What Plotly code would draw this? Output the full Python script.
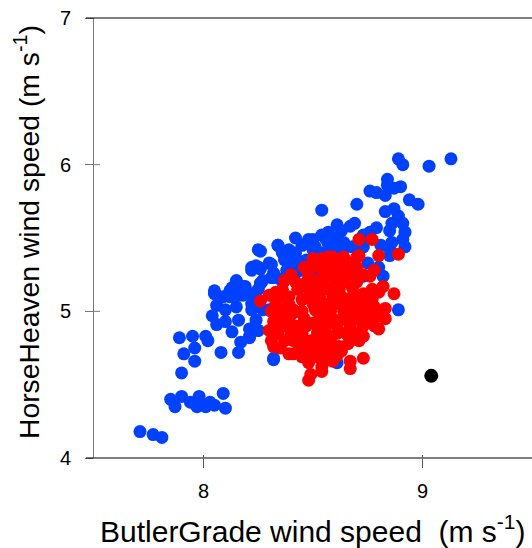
import plotly.graph_objects as go

# ---- data (m s-1) ----
blue_x = [7.71, 7.77, 7.81, 7.85, 7.87, 7.90, 7.94, 7.98, 7.97, 8.01, 8.03, 8.05, 8.09, 8.10,
          7.90, 7.91, 7.96, 7.96, 7.89, 7.95, 8.01, 8.02, 8.08, 8.16, 8.17, 8.21, 8.21, 8.13,
          8.06, 8.04, 8.06, 8.05, 8.10, 8.15, 8.16, 8.10, 8.12, 8.18, 8.22, 8.24, 8.25, 8.32, 8.30,
          8.26, 8.34, 8.22, 8.22, 8.25, 8.31, 8.26, 8.32, 8.15, 8.19, 8.12, 8.09, 8.16, 8.22,
          8.42, 8.48, 8.34, 8.36, 8.38, 8.42, 8.24, 8.26, 8.37, 8.38, 8.41, 8.44, 8.47, 8.45,
          8.31, 8.35, 8.26, 8.15, 8.18, 8.13, 8.05,
          8.89, 8.91, 9.03, 9.13, 8.84, 8.84, 8.90, 8.87, 8.76, 8.79, 8.83, 8.94, 8.98, 8.70,
          8.54, 8.83, 8.87, 8.89, 8.91, 8.86, 8.85, 8.92, 8.79, 8.76, 8.73, 8.69, 8.67, 8.61,
          8.63, 8.57, 8.54, 8.50, 8.56, 8.60, 8.64, 8.86, 8.91, 8.92, 8.85, 8.81, 8.73, 8.68,
          8.51, 8.58, 8.64, 8.85,
          8.39, 8.82, 8.89, 8.73, 8.25, 8.30, 8.36, 8.40, 8.42, 8.45, 8.27, 8.32, 8.22, 8.25,
          8.27, 8.22, 8.61, 8.32, 8.21, 8.25,
          8.55, 8.60, 8.65, 8.70, 8.48, 8.52, 8.45, 8.50, 8.57, 8.62, 8.80, 8.75]
blue_y = [4.18, 4.16, 4.14, 4.40, 4.35, 4.42, 4.38, 4.42, 4.35, 4.35, 4.38, 4.36, 4.44, 4.34,
          4.58, 4.71, 4.66, 4.75, 4.82, 4.83, 4.83, 4.80, 4.72, 4.72, 4.79, 4.82, 4.88, 4.86,
          4.91, 4.97, 5.04, 5.12, 5.01, 5.03, 4.94, 4.93, 5.10, 5.11, 5.05, 4.94, 4.87, 4.67, 5.01,
          5.41, 5.45, 5.30, 5.28, 5.30, 5.32, 5.19, 5.23, 5.20, 5.17, 5.14, 5.10, 5.11, 5.12,
          5.50, 5.49, 5.45, 5.41, 5.39, 5.40, 5.31, 5.29, 5.35, 5.28, 5.28, 5.34, 5.35, 5.28,
          5.23, 5.22, 5.19, 5.21, 5.17, 5.16, 5.14,
          6.04, 6.00, 5.99, 6.04, 5.90, 5.86, 5.85, 5.84, 5.82, 5.81, 5.79, 5.76, 5.73, 5.73,
          5.69, 5.68, 5.70, 5.65, 5.60, 5.60, 5.55, 5.54, 5.57, 5.54, 5.52, 5.60, 5.58, 5.59,
          5.55, 5.54, 5.52, 5.49, 5.49, 5.50, 5.47, 5.47, 5.49, 5.44, 5.43, 5.45, 5.44, 5.44,
          5.44, 5.43, 5.42, 5.38,
          5.42, 5.24, 5.01, 5.24, 5.42, 5.33, 5.40, 5.33, 5.26, 5.17, 5.21, 5.26, 5.10, 5.15,
          5.01, 5.01, 4.65, 4.68, 4.83, 4.87,
          5.40, 5.36, 5.30, 5.28, 5.30, 5.25, 5.45, 5.42, 5.46, 5.44, 5.30, 5.33]

red_x = [8.37, 8.50, 8.51, 8.71, 8.77, 8.80, 8.89, 8.71, 8.57, 8.64, 8.87, 8.78, 8.76, 8.82,
         8.83, 8.80, 8.77, 8.73, 8.80, 8.73, 8.59, 8.70, 8.67, 8.60, 8.65, 8.68, 8.63,
         8.26, 8.30, 8.33, 8.39, 8.54, 8.48, 8.51, 8.57, 8.45, 8.41, 8.36, 8.51, 8.57,
         8.83, 8.80, 8.76, 8.73, 8.66, 8.73, 8.67, 8.67, 8.59, 8.54, 8.49, 8.48, 8.53, 8.45,
         8.41, 8.32, 8.37, 8.30, 8.32, 8.56, 8.62, 8.65, 8.71, 8.78, 8.76, 8.68, 8.60, 8.48,
         8.44, 8.38, 8.56, 8.50, 8.41, 8.54, 8.78, 8.71, 8.57, 8.48, 8.39, 8.45,
         8.46, 8.53, 8.58, 8.62, 8.70,
         8.40, 8.48, 8.55, 8.61, 8.68, 8.73,
         8.42, 8.47, 8.54, 8.60, 8.64, 8.70,
         8.36, 8.43, 8.52, 8.57, 8.62, 8.77,
         8.35, 8.48, 8.53, 8.59, 8.68, 8.72,
         8.33, 8.39, 8.50, 8.54, 8.62, 8.66, 8.71,
         8.31, 8.45, 8.55, 8.58, 8.64, 8.74, 8.79,
         8.34, 8.39, 8.46, 8.53, 8.57, 8.64, 8.69,
         8.33, 8.42, 8.47, 8.52, 8.61, 8.67, 8.73,
         8.34, 8.40, 8.45, 8.52, 8.56, 8.61, 8.70,
         8.31, 8.41, 8.49, 8.53, 8.58, 8.67,
         8.35, 8.44, 8.51, 8.55, 8.60,
         8.50, 8.56, 8.61, 8.47, 8.58, 8.63]
red_y = [5.21, 5.36, 5.32, 5.49, 5.49, 5.38, 5.39, 5.38, 5.37, 5.37, 5.12, 5.28, 5.24, 5.17,
         5.02, 4.97, 5.08, 5.12, 5.13, 5.03, 5.37, 5.37, 5.33, 5.26, 5.26, 5.16, 5.10,
         5.07, 5.11, 5.13, 5.10, 5.36, 5.17, 5.21, 5.24, 5.08, 5.01, 5.01, 5.01, 5.05,
         4.95, 4.88, 4.94, 4.83, 4.78, 4.68, 4.66, 4.61, 4.66, 4.62, 4.57, 4.53, 4.68, 4.69,
         4.71, 4.76, 4.80, 4.87, 4.93, 4.80, 4.76, 4.85, 4.96, 5.03, 5.08, 5.01, 4.94, 4.74,
         4.80, 4.90, 4.90, 4.92, 4.99, 4.59, 4.90, 4.80, 4.67, 4.65, 4.71, 4.71,
         5.30, 5.30, 5.30, 5.30, 5.30,
         5.25, 5.25, 5.25, 5.25, 5.25, 5.25,
         5.20, 5.20, 5.20, 5.20, 5.20, 5.20,
         5.15, 5.15, 5.15, 5.15, 5.15, 5.15,
         5.10, 5.10, 5.10, 5.10, 5.10, 5.10,
         5.05, 5.05, 5.05, 5.05, 5.05, 5.05, 5.05,
         5.00, 5.00, 5.00, 5.00, 5.00, 5.00, 5.00,
         4.95, 4.95, 4.95, 4.95, 4.95, 4.95, 4.95,
         4.90, 4.90, 4.90, 4.90, 4.90, 4.90, 4.90,
         4.85, 4.85, 4.85, 4.85, 4.85, 4.85, 4.85,
         4.80, 4.80, 4.80, 4.80, 4.80, 4.80,
         4.75, 4.75, 4.75, 4.75, 4.75,
         4.70, 4.70, 4.70, 4.73, 4.73, 4.73]

black_x = [9.04]
black_y = [4.56]

x_ticks = [8, 9]
y_ticks = [4, 5, 6, 7]

FONT = "Liberation Sans, Arial, sans-serif"

fig = go.Figure()
fig.add_trace(go.Scatter(x=blue_x, y=blue_y, mode="markers",
                         marker=dict(size=13, color="#0040ff", line=dict(width=0))))
fig.add_trace(go.Scatter(x=red_x, y=red_y, mode="markers",
                         marker=dict(size=13, color="#ff0000", line=dict(width=0))))
fig.add_trace(go.Scatter(x=black_x, y=black_y, mode="markers",
                         marker=dict(size=14, color="#000000", line=dict(width=0))))

W, H = 532, 548
L, R, T, B = 94, 0, 18, 90
pw, ph = W - L - R, H - T - B

shapes = [
    dict(type="line", xref="paper", yref="paper", x0=-8 / pw, x1=1.0, y0=0, y1=0,
         line=dict(color="black", width=1.2)),
    dict(type="line", xref="paper", yref="paper", x0=-8 / pw, x1=1.0, y0=1, y1=1,
         line=dict(color="black", width=1.2)),
]
for yv in [5, 6]:
    shapes.append(dict(type="line", xref="paper", yref="y", x0=0, x1=6 / pw, y0=yv, y1=yv,
                       line=dict(color="#777777", width=1)))
for xv in x_ticks:
    shapes.append(dict(type="line", xref="x", yref="paper", x0=xv, x1=xv, y0=0, y1=3 / ph,
                       line=dict(color="#555555", width=1)))

fig.update_layout(
    width=W, height=H,
    margin=dict(l=L, r=R, t=T, b=B, pad=0),
    paper_bgcolor="white", plot_bgcolor="white",
    showlegend=False,
    font=dict(family=FONT, color="black"),
    shapes=shapes,
    xaxis=dict(range=[7.5, 9.5], tickvals=x_ticks, ticktext=[str(v) for v in x_ticks],
               showgrid=False, zeroline=False, showline=False,
               ticks="outside", ticklen=9, tickwidth=1, tickcolor="#555555",
               tickfont=dict(size=20, family=FONT, color="black"), ticklabelstandoff=6),
    yaxis=dict(range=[4, 7], tickvals=y_ticks, ticktext=[str(v) for v in y_ticks],
               showgrid=False, zeroline=False, showline=True, linecolor="#777777", linewidth=1,
               ticks="outside", ticklen=8, tickwidth=1, tickcolor="#777777",
               tickfont=dict(size=20, family=FONT, color="black"), ticklabelstandoff=10),
    annotations=[
        dict(text="ButlerGrade wind speed&nbsp; (m s<sup>-1</sup>)", xref="paper", yref="paper",
             x=0.5, y=(458 - 529) / ph, xanchor="center", yanchor="middle", showarrow=False,
             font=dict(size=30, family=FONT, color="black")),
        dict(text="HorseHeaven wind speed (m s<sup>-1</sup>)", xref="paper", yref="paper",
             x=(27 - L) / pw, y=(458 - 232) / ph, xanchor="center", yanchor="middle",
             textangle=-90, showarrow=False,
             font=dict(size=28.3, family=FONT, color="black")),
    ],
)

fig.write_html("out.html")
